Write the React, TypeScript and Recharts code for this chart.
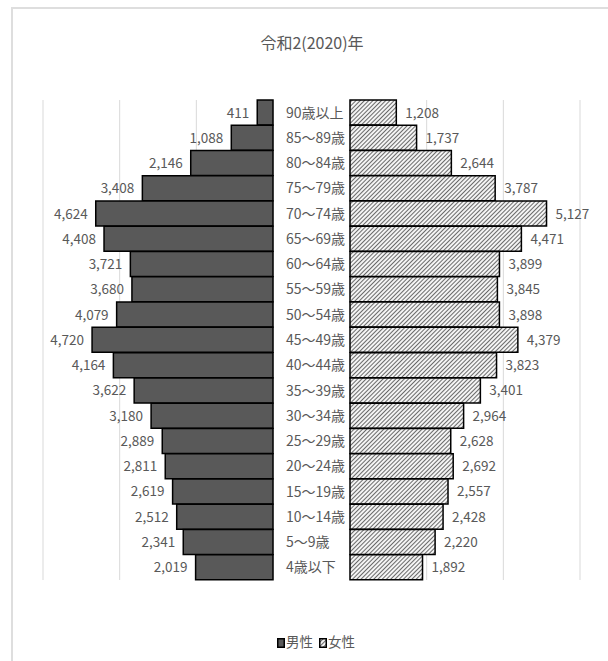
import { BarChart, Bar, XAxis, YAxis, CartesianGrid, LabelList } from "recharts";

const title = "令和2(2020)年";
const seriesNames = ["男性", "女性"];
const ages = [
  "90歳以上", "85～89歳", "80～84歳", "75～79歳", "70～74歳", "65～69歳",
  "60～64歳", "55～59歳", "50～54歳", "45～49歳", "40～44歳", "35～39歳",
  "30～34歳", "25～29歳", "20～24歳", "15～19歳", "10～14歳", "5～9歳", "4歳以下",
];
const male = [411, 1088, 2146, 3408, 4624, 4408, 3721, 3680, 4079, 4720, 4164, 3622, 3180, 2889, 2811, 2619, 2512, 2341, 2019];
const female = [1208, 1737, 2644, 3787, 5127, 4471, 3899, 3845, 3898, 4379, 3823, 3401, 2964, 2628, 2692, 2557, 2428, 2220, 1892];
const xTicks = [0, 2000, 4000, 6000];

const data = ages.map((age, i) => ({ age, male: male[i], female: female[i] }));

const FONT = '"Noto Sans CJK JP", "Noto Sans", sans-serif';
const TEXT = "#595959";
const MALE_FILL = "#595959";
const fmt = (v: number) => v.toLocaleString("en-US");

// value labels sit just outside the free end of each bar
const sideLabel = (side: "left" | "right") => (props: any) => {
  const { x, y, width, height, value } = props;
  const l = Math.min(x, x + width);
  const r = Math.max(x, x + width);
  const tx = side === "left" ? l - 8 : r + 9;
  return (
    <text
      x={tx}
      y={y + height / 2}
      dy={5}
      textAnchor={side === "left" ? "end" : "start"}
      fill={TEXT}
      fontSize={13.5}
      fontFamily={FONT}
    >
      {fmt(value)}
    </text>
  );
};

const AgeTick = (props: any) => {
  const { y, payload } = props;
  return (
    <text x={13} y={y} dy={5} textAnchor="start" fill={TEXT} fontSize={14} fontFamily={FONT}>
      {payload.value}
    </text>
  );
};

function Swatch({ fill }: { fill: string }) {
  return (
    <svg width={8} height={10} style={{ verticalAlign: "-1px", marginRight: 1 }}>
      <rect x={0.75} y={0.75} width={6.5} height={8.5} fill={fill} stroke="#000" strokeWidth={1.5} />
    </svg>
  );
}

export default function App() {
  return (
    <div
      style={{
        position: "absolute",
        left: 0,
        top: 0,
        width: 608,
        height: 661,
        overflow: "hidden",
        background: "#fff",
        fontFamily: FONT,
      }}
    >
      <svg width={0} height={0} style={{ position: "absolute" }}>
        <defs>
          <pattern id="hatch" patternUnits="userSpaceOnUse" width={3} height={3} patternTransform="rotate(45)">
            <rect width={3} height={3} fill="#f4f4f4" />
            <line x1={0.5} y1={0} x2={0.5} y2={3} stroke="#5a5a5a" strokeWidth={0.9} />
          </pattern>
        </defs>
      </svg>

      <div
        style={{
          position: "absolute",
          left: 11,
          top: 7,
          width: 640,
          height: 700,
          border: "2px solid #dedede",
        }}
      />

      <div
        style={{
          position: "absolute",
          left: 212,
          top: 31,
          width: 200,
          textAlign: "center",
          fontSize: 16,
          lineHeight: "22px",
          color: TEXT,
        }}
      >
        {title}
      </div>

      {/* 男性: bars grow to the left */}
      <div style={{ position: "absolute", left: 12, top: 98 }}>
        <BarChart
          width={263}
          height={484}
          data={data}
          layout="vertical"
          barCategoryGap={0}
          margin={{ top: 2, right: 2, bottom: 2, left: 31 }}
        >
          <CartesianGrid horizontal={false} stroke="#d9d9d9" />
          <XAxis type="number" domain={[0, 6000]} ticks={xTicks} reversed hide />
          <YAxis type="category" dataKey="age" hide />
          <Bar dataKey="male" name={seriesNames[0]} fill={MALE_FILL} stroke="#000" strokeWidth={1.5} isAnimationActive={false}>
            <LabelList dataKey="male" content={sideLabel("left")} />
          </Bar>
        </BarChart>
      </div>

      {/* 女性: bars grow to the right, age labels in the middle */}
      <div style={{ position: "absolute", left: 273, top: 98 }}>
        <BarChart
          width={333}
          height={484}
          data={data}
          layout="vertical"
          barCategoryGap={0}
          margin={{ top: 2, right: 26, bottom: 2, left: 0 }}
        >
          <CartesianGrid horizontal={false} stroke="#d9d9d9" />
          <XAxis type="number" domain={[0, 6000]} ticks={xTicks} hide />
          <YAxis
            type="category"
            dataKey="age"
            width={77}
            axisLine={false}
            tickLine={false}
            tick={<AgeTick />}
            interval={0}
          />
          <Bar dataKey="female" name={seriesNames[1]} fill="url(#hatch)" stroke="#000" strokeWidth={1.5} isAnimationActive={false}>
            <LabelList dataKey="female" content={sideLabel("right")} />
          </Bar>
        </BarChart>
      </div>

      <div
        style={{
          position: "absolute",
          left: 216,
          top: 631,
          width: 200,
          textAlign: "center",
          fontSize: 13.5,
          lineHeight: "20px",
          color: TEXT,
        }}
      >
        <Swatch fill={MALE_FILL} />
        {seriesNames[0]}
        <span style={{ display: "inline-block", width: 6 }} />
        <Swatch fill="url(#hatch)" />
        {seriesNames[1]}
      </div>
    </div>
  );
}
